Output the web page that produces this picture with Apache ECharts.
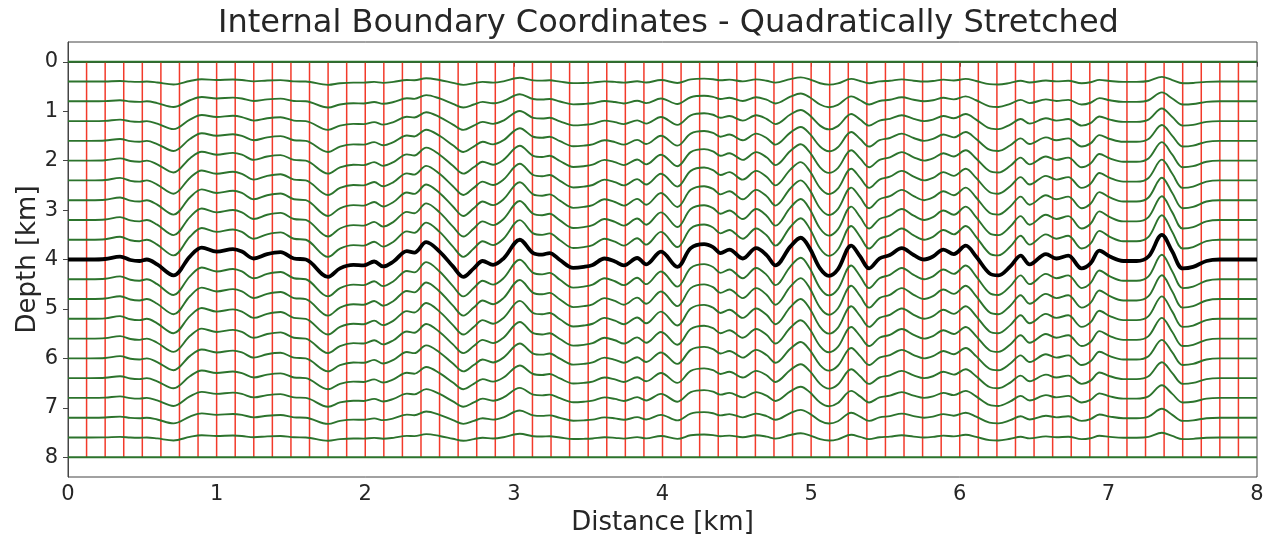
<!DOCTYPE html>
<html>
<head>
<meta charset="utf-8">
<script src="https://cdn.jsdelivr.net/npm/echarts@6/dist/echarts.min.js"></script>
<style>html,body{margin:0;padding:0;background:#fff}#c{width:1265px;height:535px}</style>
</head>
<body>
<div id="c"></div>
<script>
// Interface (black line) sampled along distance [km]
const interfaceX = [0.00,0.15,0.25,0.35,0.42,0.48,0.53,0.60,0.71,0.82,0.90,1.00,1.11,1.17,1.25,1.34,1.43,1.52,1.60,1.75,1.83,1.92,1.99,2.06,2.12,2.19,2.28,2.33,2.41,2.50,2.59,2.66,2.73,2.79,2.86,2.93,3.04,3.13,3.19,3.24,3.31,3.40,3.47,3.53,3.61,3.68,3.74,3.83,3.89,3.99,4.10,4.19,4.28,4.34,4.39,4.45,4.54,4.63,4.70,4.76,4.86,4.93,4.99,5.06,5.12,5.18,5.27,5.33,5.39,5.46,5.53,5.61,5.69,5.76,5.82,5.89,5.96,6.04,6.11,6.20,6.26,6.34,6.41,6.47,6.58,6.65,6.73,6.82,6.88,6.94,7.01,7.10,7.19,7.27,7.36,7.43,7.50,7.57,7.66,7.75,8.00];
const interfaceDepth = [4.00,4.00,3.99,3.94,4.01,4.03,4.00,4.10,4.32,3.94,3.76,3.84,3.79,3.84,3.98,3.89,3.85,3.98,4.00,4.35,4.18,4.11,4.12,4.04,4.14,4.04,3.83,3.86,3.65,3.84,4.14,4.35,4.18,4.03,4.11,3.98,3.60,3.87,3.90,3.87,4.01,4.17,4.15,4.11,3.98,4.04,4.12,3.97,4.10,3.84,4.15,3.77,3.69,3.75,3.87,3.80,3.98,3.77,3.91,4.12,3.74,3.56,3.77,4.18,4.33,4.20,3.72,3.94,4.18,3.98,3.91,3.77,3.91,4.00,3.94,3.80,3.89,3.72,3.94,4.28,4.32,4.14,3.92,4.10,3.89,3.98,3.92,4.18,4.08,3.82,3.94,4.03,4.03,3.94,3.50,3.84,4.18,4.15,4.03,4.00,4.00];
const interfaceBase = 4;
// Green horizontal coordinate lines: base depths and how strongly each follows the interface
const gridDepths = [0,0.4,0.8,1.2,1.6,2.0,2.4,2.8,3.2,3.6,4.0,4.4,4.8,5.2,5.6,6.0,6.4,6.8,7.2,7.6,8.0];
const gridWeights = [0,0.19,0.36,0.51,0.64,0.75,0.84,0.91,0.96,0.99,1,0.99,0.96,0.91,0.84,0.75,0.64,0.51,0.36,0.19,0];
// Red vertical coordinate lines
const verticalX = [0.125,0.25,0.375,0.5,0.625,0.75,0.875,1,1.125,1.25,1.375,1.5,1.625,1.75,1.875,2,2.125,2.25,2.375,2.5,2.625,2.75,2.875,3,3.125,3.25,3.375,3.5,3.625,3.75,3.875,4,4.125,4.25,4.375,4.5,4.625,4.75,4.875,5,5.125,5.25,5.375,5.5,5.625,5.75,5.875,6,6.125,6.25,6.375,6.5,6.625,6.75,6.875,7,7.125,7.25,7.375,7.5,7.625,7.75,7.875];
const xTicks = [0,1,2,3,4,5,6,7,8];
const yTicks = [0,1,2,3,4,5,6,7,8];

const series = [];
verticalX.forEach(x => {
  series.push({type:'line', data:[[x,0],[x,8]], symbol:'none', silent:true,
    lineStyle:{color:'#f23a2a', width:1.5}, z:1});
});
gridDepths.forEach((d,k) => {
  const w = gridWeights[k];
  series.push({type:'line', symbol:'none', silent:true, smooth:0.35,
    data: interfaceX.map((x,i) => [x, d + w*(interfaceDepth[i]-interfaceBase)]),
    lineStyle:{color:'#2c732c', width:1.9}, z:2});
});
series.push({type:'line', symbol:'none', silent:true, smooth:0.35,
  data: interfaceX.map((x,i) => [x, interfaceDepth[i]]),
  lineStyle:{color:'#000', width:3.8}, z:3});

const chart = echarts.init(document.getElementById('c'), null, {renderer:'canvas'});
const txt = '#262626';
chart.setOption({
  animation:false,
  backgroundColor:'#fff',
  title:{text:'Internal Boundary Coordinates - Quadratically Stretched', left:213, top:3,
    textStyle:{fontFamily:'DejaVu Sans', fontSize:32, fontWeight:'normal', color:txt}},
  grid:{left:68, right:8, top:42, bottom:58, show:true, borderColor:'#444', borderWidth:1,
    containLabel:false, outerBoundsMode:'none'},
  xAxis:{type:'value', min:0, max:8, interval:1,
    name:'Distance [km]', nameLocation:'middle', nameGap:33, nameMoveOverlap:false,
    nameTextStyle:{fontFamily:'DejaVu Sans', fontSize:26, color:txt},
    axisLine:{show:true, lineStyle:{color:'#444', width:1}},
    axisTick:{show:true, length:5, lineStyle:{color:'#444'}},
    axisLabel:{fontFamily:'DejaVu Sans', fontSize:21, color:txt, margin:7,
      customValues: xTicks},
    splitLine:{show:false}},
  yAxis:{type:'value', inverse:true, min:-0.4, max:8.4,
    name:'Depth [km]', nameLocation:'middle', nameGap:27, nameMoveOverlap:false,
    nameTextStyle:{fontFamily:'DejaVu Sans', fontSize:26, color:txt},
    axisLine:{show:true, lineStyle:{color:'#444', width:1}},
    axisTick:{show:true, length:5, lineStyle:{color:'#444'}, customValues: yTicks},
    axisLabel:{fontFamily:'DejaVu Sans', fontSize:21, color:txt, margin:10, customValues: yTicks},
    splitLine:{show:false}},
  series: series
});
</script>
</body>
</html>
